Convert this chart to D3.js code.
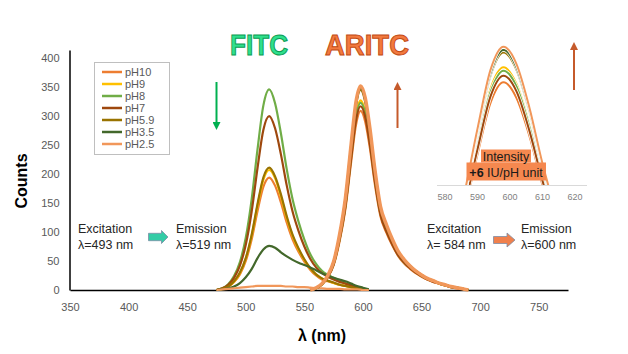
<!DOCTYPE html>
<html><head><meta charset="utf-8">
<script src="https://cdn.jsdelivr.net/npm/d3@7"></script>
<style>body{margin:0;background:#fff} svg{display:block}</style>
</head><body><svg id="c" width="628" height="354"></svg>
<script>
// ---------- DATA ----------
const seriesNames = ["pH10","pH9","pH8","pH7","pH5.9","pH3.5","pH2.5"];
const xTicks = [350,400,450,500,550,600,650,700,750];
const yTicks = [0,50,100,150,200,250,300,350,400];
const insetTicks = [580,590,600,610,620];

const fitcWavelengths = [475,480,485,490,495,500,505,510,515,520,525,530,535,540,545,550,555,560,565,570,575,580,585,590,595,600,605];
const fitcPH10  = [0,2,6,14,27,50,87,136,178,194,180,151,116,87,66,49,35,25,18,15,12,9,7,5,3,2,0];
const fitcPH9   = [0,2,6,14,29,54,93,145,190,207,193,161,124,93,70,52,37,27,20,16,12,9,7,5,3,2,0];
const fitcPH8   = [0,3,10,24,48,90,156,242,318,346,322,270,208,156,118,87,62,45,33,26,21,16,12,9,5,3,0];
const fitcPH7   = [0,3,9,21,42,78,135,210,276,300,279,234,180,135,102,75,54,39,29,23,18,14,11,8,5,2,0];
const fitcPH59  = [0,2,6,15,30,55,95,148,194,211,196,165,127,95,72,53,38,27,20,16,13,9,7,5,3,2,0];
const fitcPH35  = [0,1,3,6,12,22,36,55,70,76,73,65,58,52,47,43,39,34,29,25,21,18,15,11,7,4,1];
const fitcPH25  = [0,1,2,3,4,5,6,7,7,7,7,7,6,6,5,5,4,3,3,2,2,2,1,1,1,0,0];

const aritcWavelengths = [555,560,565,570,575,580,585,590,594,598,602,606,610,615,620,625,630,635,640,645,650,655,660,665,670,675,680,685,690];
const aritcPH10 = [0,3,9,22,43,83,139,222,284,309,290,244,185,127,99,77,59,46,37,29,23,18,14,11,8,5,3,2,0];
const aritcPH9  = [0,3,10,23,46,88,147,235,301,327,307,258,196,134,105,82,62,49,39,31,25,19,15,11,8,6,4,2,0];
const aritcPH8  = [0,3,10,23,45,87,145,233,297,323,304,255,194,132,103,81,61,48,39,31,24,19,15,11,8,5,4,2,0];
const aritcPH7  = [0,3,10,22,44,86,143,228,292,317,298,250,190,130,101,79,60,48,38,30,24,18,14,11,8,5,3,2,0];
const aritcPH59 = [0,3,10,24,48,93,155,248,317,345,324,273,207,141,110,86,66,52,41,33,26,20,16,12,9,6,4,2,0];
const aritcPH35 = [0,3,10,24,49,94,157,251,320,348,327,275,209,143,111,87,66,52,42,33,26,20,16,12,9,6,4,2,0];
const aritcPH25 = [0,4,11,25,49,95,158,253,324,352,331,278,211,144,113,88,67,53,42,33,26,20,16,12,9,6,4,2,0];

// ---------- STYLE ----------
const colors = ["#ED7D31","#FFC000","#70AD47","#9E480E","#997300","#43682B","#F1975A"];
const fitcSets = [fitcPH10,fitcPH9,fitcPH8,fitcPH7,fitcPH59,fitcPH35,fitcPH25];
const aritcSets = [aritcPH10,aritcPH9,aritcPH8,aritcPH7,aritcPH59,aritcPH35,aritcPH25];

const series = seriesNames.map((name,i)=>({
  name, color: colors[i],
  fitc: fitcWavelengths.map((w,j)=>({w, v: fitcSets[i][j]})),
  aritc: aritcWavelengths.map((w,j)=>({w, v: aritcSets[i][j]}))
}));

const svg = d3.select("#c");
const FONT = "'Liberation Sans', Arial, sans-serif";

const x = d3.scaleLinear().domain([350,775]).range([70,568]);
const y = d3.scaleLinear().domain([0,414]).range([290,50]);

// axes
const gx = svg.append("g").attr("transform","translate(0,290)")
  .call(d3.axisBottom(x).tickValues(xTicks).tickSize(0).tickPadding(13));
gx.select(".domain").attr("stroke","#000").attr("stroke-width",1.5);
gx.selectAll("text").attr("font-family",FONT).attr("font-size",11).attr("fill","#595959");

const gy = svg.append("g").attr("transform","translate(69.5,0)")
  .call(d3.axisLeft(y).tickValues(yTicks).tickSize(0).tickPadding(10));
gy.select(".domain").attr("stroke","#000").attr("stroke-width",1.5);
gy.selectAll("text").attr("font-family",FONT).attr("font-size",11).attr("fill","#595959");

svg.append("text").attr("transform","translate(27,181) rotate(-90)")
  .attr("text-anchor","middle").attr("font-family",FONT).attr("font-weight","bold")
  .attr("font-size",16).attr("fill","#000").text("Counts");
svg.append("text").attr("x",322).attr("y",341)
  .attr("text-anchor","middle").attr("font-family",FONT).attr("font-weight","bold")
  .attr("font-size",16).attr("fill","#000").text("λ (nm)");

// curves
const line = d3.line().x(d=>x(d.w)).y(d=>y(d.v)).curve(d3.curveMonotoneX);
const gc = svg.append("g");
series.forEach((s,i)=>{
  gc.append("path").attr("d",line(s.fitc)).attr("fill","none")
    .attr("stroke",s.color).attr("stroke-width",2.2);
});
series.forEach((s,i)=>{
  gc.append("path").attr("d",line(s.aritc)).attr("fill","none")
    .attr("stroke",s.color).attr("stroke-width", i===6 ? 3.5 : 2.2);
});

// legend
const lg = svg.append("g");
lg.append("rect").attr("x",94.5).attr("y",62.5).attr("width",75).attr("height",92)
  .attr("fill","#fff").attr("stroke","#bfbfbf");
series.forEach((s,i)=>{
  const yy = 72 + i*12;
  lg.append("line").attr("x1",102).attr("x2",122).attr("y1",yy).attr("y2",yy)
    .attr("stroke",s.color).attr("stroke-width",2.5);
  lg.append("text").attr("x",125).attr("y",yy).attr("dy","0.35em")
    .attr("font-family",FONT).attr("font-size",11).attr("fill","#595959").text(s.name);
});

// titles
svg.append("text").attr("x",230).attr("y",55).attr("textLength",58).attr("lengthAdjust","spacingAndGlyphs")
  .attr("font-family",FONT).attr("font-weight","bold").attr("font-size",30)
  .attr("fill","#2EE08C").attr("stroke","#0A9A52").attr("stroke-width",1).text("FITC");
svg.append("text").attr("x",325).attr("y",55).attr("textLength",84).attr("lengthAdjust","spacingAndGlyphs")
  .attr("font-family",FONT).attr("font-weight","bold").attr("font-size",30)
  .attr("fill","#F2793F").attr("stroke","#C24A12").attr("stroke-width",1).text("ARITC");

// arrows
const defs = svg.append("defs");
function marker(id,color){
  defs.append("marker").attr("id",id).attr("viewBox","0 0 10 10").attr("refX",5).attr("refY",5)
    .attr("markerWidth",4).attr("markerHeight",4).attr("orient","auto")
    .append("path").attr("d","M0,0 L10,5 L0,10 Z").attr("fill",color);
}
marker("mg","#00B050"); marker("mo","#C55A2B");
svg.append("line").attr("x1",216.5).attr("x2",216.5).attr("y1",82).attr("y2",126)
  .attr("stroke","#00B050").attr("stroke-width",2).attr("marker-end","url(#mg)");
svg.append("line").attr("x1",397.5).attr("x2",397.5).attr("y1",128).attr("y2",86)
  .attr("stroke","#C55A2B").attr("stroke-width",2).attr("marker-end","url(#mo)");

// excitation/emission notes
function note(xx, l1, l2){
  const t = svg.append("text").attr("font-family",FONT).attr("font-size",12.5).attr("fill","#262626");
  t.append("tspan").attr("x",xx).attr("y",233).text(l1);
  t.append("tspan").attr("x",xx).attr("y",249).text(l2);
}
note(78,"Excitation","λ=493 nm");
note(176,"Emission","λ=519 nm");
note(427,"Excitation","λ= 584 nm");
note(521,"Emission","λ=600 nm");
function blockArrow(x0,x1,cy,hx,sh,hh,fill){
  const p = `M${x0},${cy-sh} L${hx},${cy-sh} L${hx},${cy-hh} L${x1},${cy} L${hx},${cy+hh} L${hx},${cy+sh} L${x0},${cy+sh} Z`;
  svg.append("path").attr("d",p).attr("fill",fill).attr("stroke","#7C8DA6").attr("stroke-width",0.8);
}
blockArrow(148.5,168,237,161.5,3.7,6.5,"#33CCA6");
blockArrow(493.5,515,240,507,3.5,7,"#F0804C");

// ---------- INSET ----------
const xi = d3.scaleLinear().domain([580,620]).range([445,575]);
const yi = d3.scaleLinear().domain([185,360]).range([185,40]);
defs.append("clipPath").attr("id","ic").append("rect").attr("x",437).attr("y",28).attr("width",150).attr("height",157);
const gi = svg.append("g");
gi.append("line").attr("x1",437).attr("x2",587).attr("y1",185.5).attr("y2",185.5)
  .attr("stroke","#d9d9d9").attr("stroke-width",1);
insetTicks.forEach(t=>{
  gi.append("text").attr("x",xi(t)).attr("y",200).attr("text-anchor","middle")
    .attr("font-family",FONT).attr("font-size",9).attr("fill","#7f7f7f").text(t);
});
const linei = d3.line().x(d=>xi(d.w)).y(d=>yi(d.v)).curve(d3.curveMonotoneX);
const gic = gi.append("g").attr("clip-path","url(#ic)");
series.forEach((s,i)=>{
  gic.append("path").attr("d",linei(s.aritc)).attr("fill","none")
    .attr("stroke","#fff").attr("stroke-width",3.5);
  gic.append("path").attr("d",linei(s.aritc)).attr("fill","none")
    .attr("stroke",s.color).attr("stroke-width",2);
});
// intensity label
gi.append("rect").attr("x",481).attr("y",149.5).attr("width",50).attr("height",13).attr("fill","#F5884F");
gi.append("rect").attr("x",466.5).attr("y",162.5).attr("width",79.5).attr("height",18).attr("fill","#F5884F");
gi.append("text").attr("x",506).attr("y",160.5).attr("text-anchor","middle")
  .attr("font-family",FONT).attr("font-size",12.5).attr("fill","#1a1a1a").text("Intensity");
const t2 = gi.append("text").attr("x",506).attr("y",176.5).attr("text-anchor","middle")
  .attr("font-family",FONT).attr("font-size",12.5).attr("fill","#1a1a1a");
t2.append("tspan").attr("font-weight","bold").text("+6");
t2.append("tspan").text(" IU/pH unit");
svg.append("line").attr("x1",574).attr("x2",574).attr("y1",90).attr("y2",46)
  .attr("stroke","#C55A2B").attr("stroke-width",2).attr("marker-end","url(#mo)");
</script></body></html>
